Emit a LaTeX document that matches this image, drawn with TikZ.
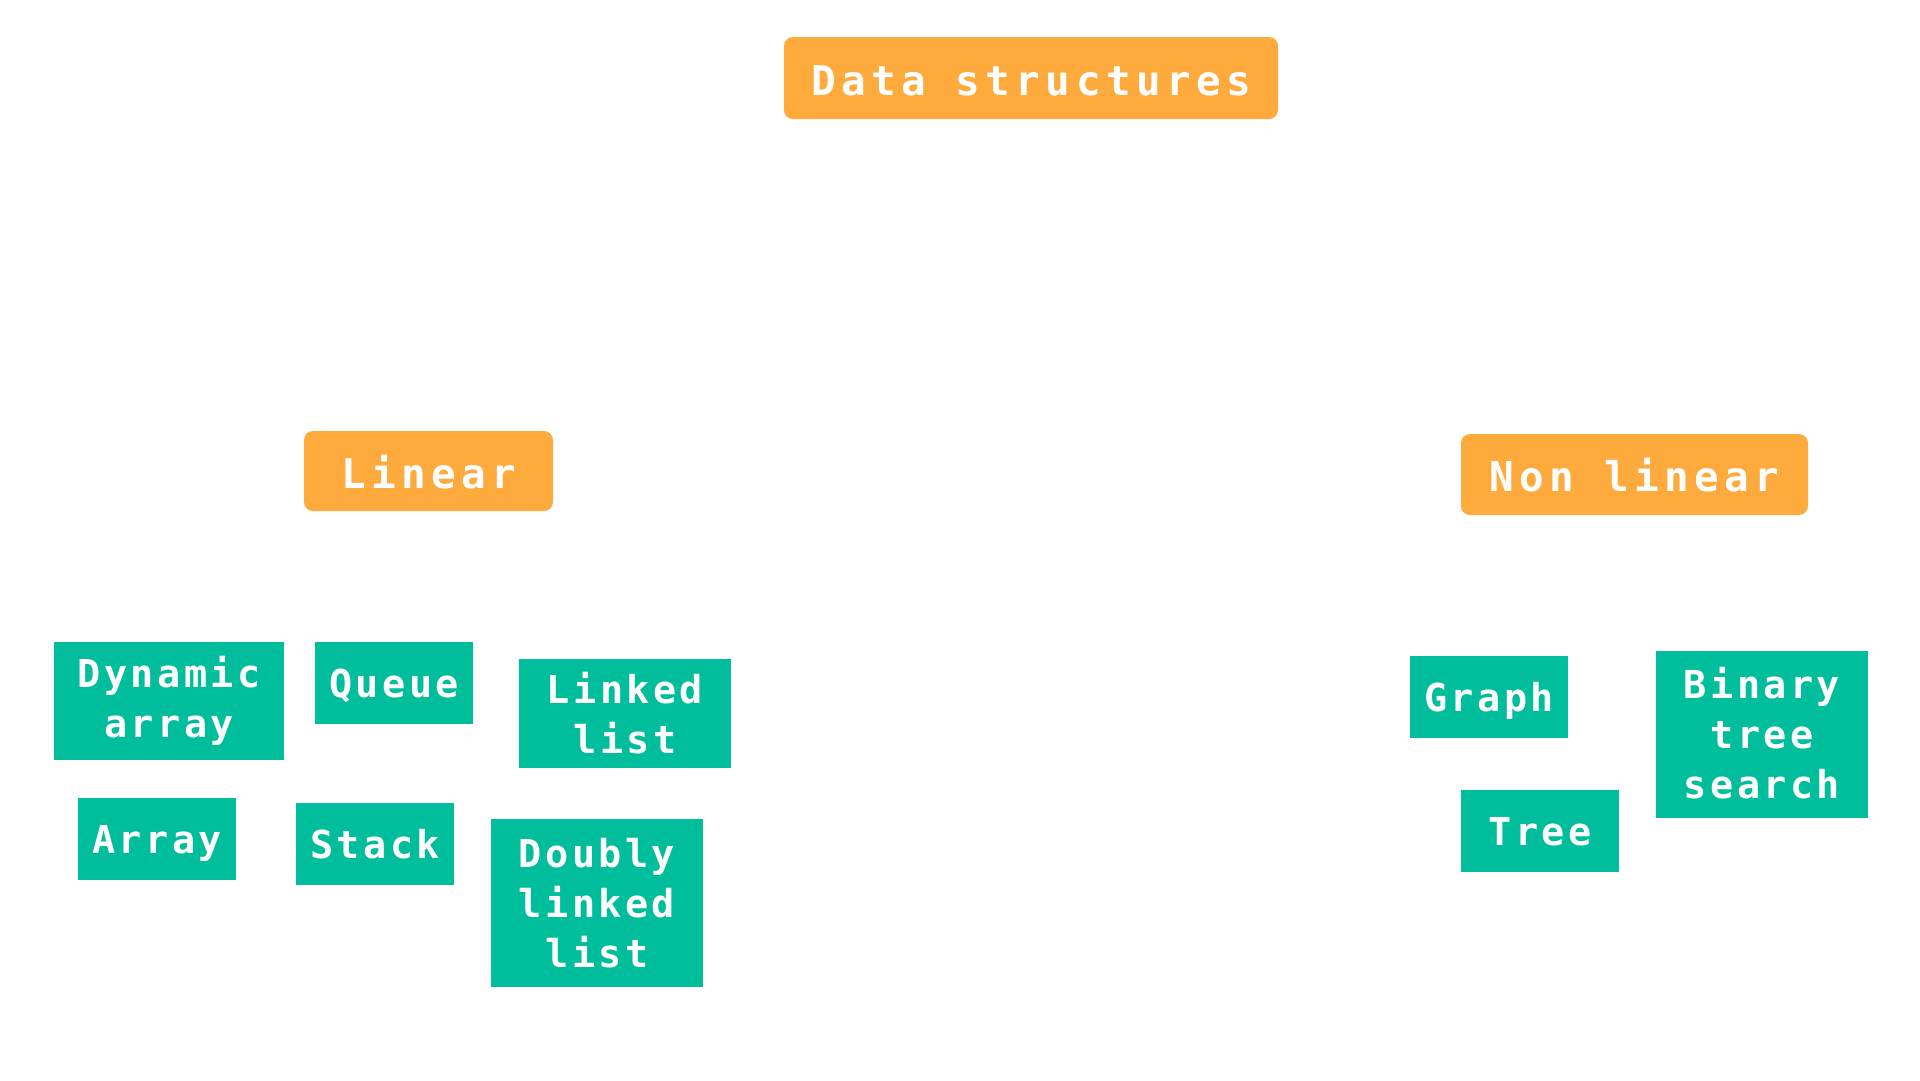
\documentclass[tikz,border=0pt]{standalone}
\usepackage{fontspec}
\newfontfamily\catfont[LetterSpace=13]{DejaVu Sans Mono}
\newfontfamily\leaffont[LetterSpace=9]{DejaVu Sans Mono}
\definecolor{orangebox}{RGB}{255,170,61}
\definecolor{tealbox}{RGB}{0,190,155}
\begin{document}
\begin{tikzpicture}[x=1pt,y=-1pt,
  catbox/.style={fill=orangebox, rounded corners=9pt, inner sep=0pt, text=white,
    font=\catfont\bfseries\fontsize{41}{50}\selectfont, align=center,
    text height=34pt, text depth=0pt},
  leafbox/.style={fill=tealbox, inner sep=0pt, text=white,
    font=\leaffont\bfseries\fontsize{38.5}{50}\selectfont, align=center,
    text height=28.1pt, text depth=0pt},
  twolines/.style={text height=80.5pt},
  threelines/.style={text height=128.1pt}]
\useasboundingbox[fill=white] (0,0) rectangle (1920,1080);
\node[catbox, minimum width=494pt, minimum height=82pt] (ds) at (1031,78) {Data structures};
\node[catbox, minimum width=249pt, minimum height=80pt] (lin) at (428.5,471) {Linear};
\node[catbox, minimum width=347pt, minimum height=81pt] (nonlin) at (1634.5,474.5) {Non linear};
\node[leafbox, twolines, text height=73pt, minimum width=230pt, minimum height=118pt] (dyn) at (169,701) {Dynamic\\array};
\node[leafbox, minimum width=158pt, minimum height=82pt] (queue) at (394,683) {Queue};
\node[leafbox, twolines, minimum width=212pt, minimum height=109pt] (ll) at (625,713.5) {Linked\\list};
\node[leafbox, minimum width=158pt, minimum height=82pt] (arr) at (157,839) {Array};
\node[leafbox, minimum width=158pt, minimum height=82pt] (stack) at (375,844) {Stack};
\node[leafbox, threelines, minimum width=212pt, minimum height=168pt] (dll) at (597,903) {Doubly\\linked\\list};
\node[leafbox, minimum width=158pt, minimum height=82pt] (graph) at (1489,697) {Graph};
\node[leafbox, minimum width=158pt, minimum height=82pt] (tree) at (1540,831) {Tree};
\node[leafbox, threelines, minimum width=212pt, minimum height=167pt] (bts) at (1762,734.5) {Binary\\tree\\search};
\end{tikzpicture}
\end{document}
